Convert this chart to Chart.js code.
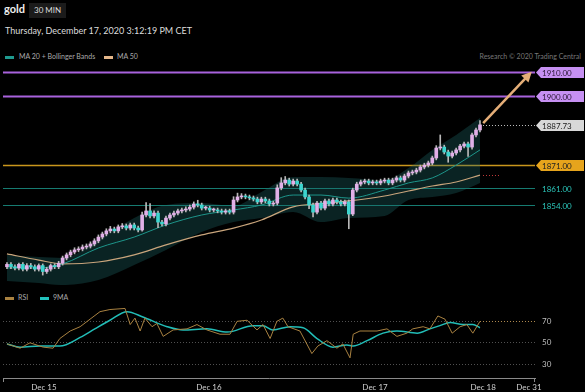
<!DOCTYPE html>
<html>
<head>
<meta charset="utf-8">
<script src="https://cdn.jsdelivr.net/npm/chart.js@4.4.0/dist/chart.umd.min.js"></script>
<style>
  html, body { margin: 0; padding: 0; background: #000; }
  body { width: 585px; height: 392px; position: relative; overflow: hidden; font-family: Lato, "Open Sans", sans-serif; color: #ddd; }
  .abs { position: absolute; white-space: nowrap; }
  #title { left: 4px; top: 2px; font-size: 11px; font-weight: bold; color: #eee; }
  #period { left: 29px; top: 3px; height: 15px; line-height: 15px; padding: 0 5px; background: #1b1b1b; font-size: 8px; color: #ddd; }
  #stamp { left: 5px; top: 25px; font-size: 9px; color: #ddd; }
  .lg { font-size: 7px; color: #aaa; line-height: 9px; }
  .sw { position: absolute; width: 9px; height: 3px; }
  #credit { right: 4px; top: 52px; font-size: 7px; color: #777; }
  canvas { position: absolute; left: 0; }
  #main { top: 0; }
  #rsi { top: 290px; }
</style>
</head>
<body>
<div class="abs" id="title">gold</div>
<div class="abs" id="period">30 MIN</div>
<div class="abs" id="stamp">Thursday, December 17, 2020 3:12:19 PM CET</div>

<div class="sw" style="left:5px; top:56px; background:#1f9a8f;"></div>
<div class="abs lg" style="left:19px; top:52px;">MA 20 + Bollinger Bands</div>
<div class="sw" style="left:104px; top:56px; background:#e3b68a;"></div>
<div class="abs lg" style="left:117px; top:52px;">MA 50</div>
<div class="abs" id="credit">Research © 2020 Trading Central</div>

<div class="sw" style="left:5px; top:297px; background:#a98241;"></div>
<div class="abs lg" style="left:18px; top:293px;">RSI</div>
<div class="sw" style="left:40px; top:297px; background:#22c2bd;"></div>
<div class="abs lg" style="left:53px; top:293px;">9MA</div>

<canvas id="main" width="585" height="290"></canvas>
<canvas id="rsi" width="585" height="102"></canvas>

<script>
// 30 min candles, Dec 14 evening -> Dec 17 15:00
const opens = [1828.0, 1829.0, 1828.0, 1827.5, 1829.0, 1827.0, 1828.5, 1828.0, 1827.0, 1828.5,
  1826.0, 1827.0, 1828.5, 1828.0, 1829.5, 1831.7, 1833.0, 1834.2, 1835.1, 1835.5,
  1836.3, 1836.7, 1837.6, 1838.9, 1840.5, 1841.8, 1843.1, 1843.9, 1843.1, 1844.8,
  1845.2, 1844.3, 1845.6, 1844.3, 1843.5, 1849.8, 1851.5, 1849.4, 1850.6, 1846.8,
  1846.0, 1848.5, 1849.8, 1850.6, 1851.5, 1851.9, 1852.3, 1853.1, 1854.4, 1854.0,
  1852.7, 1852.7, 1851.9, 1851.9, 1851.5, 1851.0, 1851.5, 1851.0, 1856.1, 1857.4,
  1857.8, 1857.4, 1857.0, 1856.5, 1855.3, 1856.5, 1855.7, 1854.4, 1854.8, 1861.2,
  1863.3, 1864.5, 1862.8, 1864.1, 1862.8, 1860.3, 1857.4, 1854.0, 1851.0, 1854.8,
  1852.7, 1855.7, 1854.4, 1856.1, 1855.3, 1854.4, 1855.3, 1850.2, 1860.3, 1862.8,
  1863.7, 1864.1, 1863.3, 1863.7, 1863.3, 1864.1, 1864.5, 1863.3, 1864.5, 1865.4,
  1864.5, 1866.2, 1867.5, 1867.9, 1868.7, 1870.0, 1870.8, 1871.7, 1873.8, 1878.0,
  1878.4, 1876.3, 1874.6, 1875.9, 1877.2, 1878.8, 1879.7, 1878.4, 1883.5, 1885.6];
const highs = [1829.8, 1829.8, 1828.8, 1829.6, 1829.8, 1829.3, 1829.4, 1828.8, 1829.2, 1829.2,
  1827.8, 1829.2, 1829.3, 1830.3, 1832.5, 1833.8, 1835.0, 1836.0, 1836.4, 1837.2,
  1837.6, 1838.5, 1839.8, 1841.4, 1842.6, 1844.0, 1845.0, 1844.7, 1845.6, 1846.2,
  1846.0, 1846.4, 1846.4, 1845.1, 1851.0, 1855.0, 1854.6, 1851.5, 1851.4, 1847.6,
  1849.3, 1850.6, 1851.4, 1852.3, 1852.7, 1853.2, 1854.0, 1855.3, 1856.0, 1854.8,
  1853.5, 1853.5, 1852.7, 1852.7, 1852.3, 1852.3, 1852.3, 1857.5, 1859.0, 1858.8,
  1858.6, 1858.2, 1857.8, 1857.3, 1857.3, 1857.3, 1856.5, 1855.6, 1862.5, 1865.5,
  1866.0, 1865.3, 1864.9, 1864.9, 1863.6, 1861.1, 1858.2, 1854.8, 1855.6, 1855.6,
  1856.5, 1856.5, 1856.9, 1856.9, 1856.1, 1856.1, 1856.1, 1861.1, 1863.6, 1864.5,
  1864.9, 1864.9, 1864.5, 1864.5, 1864.9, 1865.3, 1865.3, 1865.3, 1866.2, 1866.2,
  1867.0, 1868.3, 1868.7, 1869.5, 1870.8, 1871.6, 1872.5, 1874.6, 1879.0, 1883.5,
  1879.2, 1877.1, 1876.7, 1878.0, 1879.6, 1880.5, 1880.5, 1884.3, 1886.4, 1889.6];
const lows = [1827.2, 1827.2, 1826.7, 1826.7, 1826.2, 1826.2, 1827.2, 1826.2, 1826.2, 1824.5,
  1825.2, 1826.2, 1827.2, 1827.2, 1828.7, 1830.9, 1832.2, 1833.4, 1834.3, 1834.7,
  1835.5, 1835.9, 1836.8, 1838.1, 1839.7, 1841.0, 1842.3, 1842.3, 1842.3, 1844.0,
  1843.5, 1843.5, 1843.5, 1842.7, 1843.0, 1849.0, 1848.6, 1848.6, 1844.5, 1845.2,
  1845.2, 1847.7, 1849.0, 1849.8, 1850.7, 1851.1, 1851.5, 1852.3, 1853.2, 1851.9,
  1851.9, 1851.1, 1851.1, 1850.7, 1850.2, 1850.2, 1850.2, 1850.2, 1855.3, 1856.6,
  1856.6, 1856.2, 1855.7, 1854.5, 1854.5, 1854.9, 1853.6, 1853.6, 1854.0, 1860.4,
  1862.5, 1862.0, 1862.0, 1862.0, 1859.5, 1856.6, 1852.5, 1849.0, 1850.2, 1851.9,
  1851.9, 1853.6, 1853.6, 1854.5, 1853.6, 1853.6, 1844.0, 1849.5, 1859.5, 1862.0,
  1862.9, 1862.5, 1862.5, 1862.5, 1862.5, 1863.3, 1862.5, 1862.5, 1863.7, 1863.7,
  1863.7, 1865.4, 1866.7, 1867.1, 1867.9, 1869.2, 1870.0, 1870.9, 1873.0, 1877.2,
  1875.5, 1872.0, 1873.8, 1875.1, 1876.4, 1878.0, 1874.5, 1877.5, 1882.7, 1884.8];
const closes = [1829.0, 1828.0, 1827.5, 1829.0, 1827.0, 1828.5, 1828.0, 1827.0, 1828.5, 1826.0,
  1827.0, 1828.5, 1828.0, 1829.5, 1831.7, 1833.0, 1834.2, 1835.1, 1835.5, 1836.3,
  1836.7, 1837.6, 1838.9, 1840.5, 1841.8, 1843.1, 1843.9, 1843.1, 1844.8, 1845.2,
  1844.3, 1845.6, 1844.3, 1843.5, 1849.8, 1851.5, 1849.4, 1850.6, 1846.8, 1846.0,
  1848.5, 1849.8, 1850.6, 1851.5, 1851.9, 1852.3, 1853.1, 1854.4, 1854.0, 1852.7,
  1852.7, 1851.9, 1851.9, 1851.5, 1851.0, 1851.5, 1851.0, 1856.1, 1857.4, 1857.8,
  1857.4, 1857.0, 1856.5, 1855.3, 1856.5, 1855.7, 1854.4, 1854.8, 1861.2, 1863.3,
  1864.5, 1862.8, 1864.1, 1862.8, 1860.3, 1857.4, 1854.0, 1851.0, 1854.8, 1852.7,
  1855.7, 1854.4, 1856.1, 1855.3, 1854.4, 1855.3, 1850.2, 1860.3, 1862.8, 1863.7,
  1864.1, 1863.3, 1863.7, 1863.3, 1864.1, 1864.5, 1863.3, 1864.5, 1865.4, 1864.5,
  1866.2, 1867.5, 1867.9, 1868.7, 1870.0, 1870.8, 1871.7, 1873.8, 1878.0, 1878.4,
  1876.3, 1874.6, 1875.9, 1877.2, 1878.8, 1879.7, 1878.4, 1883.5, 1885.6, 1887.73];

// indicators, read at a few candle positions
const bandIdx = [0, 8, 14, 23, 32, 40, 49, 57, 64, 72, 79, 86, 95, 101, 107, 113, 119];
const bandUpper = [1832.9, 1832.1, 1831.7, 1839.3, 1848.5, 1854.0, 1854.8, 1853.6, 1859.5, 1865.8, 1865.8, 1865.4, 1864.5, 1869.6, 1877.2, 1883.5, 1890.6];
const bandLower = [1822.0, 1821.2, 1820.3, 1822.4, 1828.7, 1835.1, 1842.6, 1846.8, 1848.5, 1851.1, 1846.8, 1848.5, 1849.4, 1856.1, 1857.4, 1859.1, 1863.3];
const ma20 = [1827.5, 1827.5, 1829.2, 1835.9, 1840.5, 1845.6, 1849.8, 1851.9, 1854.0, 1858.2, 1858.2, 1856.9, 1860.3, 1863.3, 1865.4, 1870.8, 1877.2];
const ma50 = [1833.4, 1830.8, 1829.2, 1830.0, 1833.0, 1837.2, 1841.4, 1844.3, 1847.7, 1853.2, 1854.6, 1855.7, 1857.8, 1859.9, 1862.0, 1863.7, 1866.6];

// key levels
const levelPrices = [1910, 1900, 1887.73, 1871, 1861, 1854];
const levelLabels = ['1910.00', '1900.00', '1887.73', '1871.00', '1861.00', '1854.00'];
const arrowIdx = [119.8, 131.5];
const arrowPrice = [1888.5, 1909.2];

// RSI panel
const rsiIdx = [0, 3.3, 5.8, 9.1, 11.6, 13.3, 15.9, 18.4, 20.9, 23.4, 25.9, 29.7, 31.0, 32.2, 33.5, 34.7, 36.5, 37.7, 39.3, 41.8,
  45.3, 47.8, 50.3, 53.6, 56.1, 57.9, 60.4, 62.9, 64.4, 66.2, 67.9, 69.4, 70.7, 73.7, 76.7, 78.2, 80.5, 83.0, 84.5, 86.3,
  87.1, 88.8, 93.1, 95.6, 98.1, 100.6, 102.1, 104.7, 106.4, 108.4, 110.2, 112.0, 114.0, 115.7, 117.2, 119.0];
const rsiVal = [49, 45, 50, 46, 45, 54, 61, 65, 72, 79, 81, 82, 67, 73, 61, 73, 65, 68, 56, 62,
  63, 67, 62, 58, 58, 70, 71, 62, 67, 54, 70, 73, 65, 61, 40, 47, 52, 45, 49, 36,
  58, 61, 61, 63, 56, 59, 63, 65, 63, 75, 72, 59, 65, 67, 59, 70];
const ma9Idx = [0, 3.3, 8.3, 13.3, 18.4, 22.1, 25.9, 30.2, 34.2, 40.3, 44.3, 50.3, 55.4, 61.9, 64.4, 66.9,
  71.2, 74.5, 78.0, 82.0, 85.5, 87.1, 90.6, 94.6, 98.1, 103.2, 106.4, 108.9, 111.5, 114.7, 117.2, 119.0];
const ma9Val = [49, 46, 47, 47, 55, 63, 71, 79, 74, 65, 62, 63, 60, 66, 66, 62,
  65, 64, 54, 46, 48, 47, 52, 59, 61, 59, 63, 66, 69, 67, 67, 64];
const rsiTicks = [30, 50, 70];

// date axis
const tickIdx = [9.3, 50.8, 92.6, 119.8, 131.3];
const tickText = ['Dec 15', 'Dec 16', 'Dec 17', 'Dec 18', 'Dec 31'];

const X_MIN = -1, X_MAX = 132.84;
const UP = '#e2b0e8', DOWN = '#3dd5cf';
const FONT = 'Lato, "Open Sans", sans-serif';

const levelStyles = [
  { line: '#a862dc', width: 2, box: '#c690f2', text: '#2b1736' },
  { line: '#a862dc', width: 2, box: '#c690f2', text: '#2b1736' },
  { line: '#bdbdbd', width: 1, dash: [1, 2], fromLast: true, box: '#d8d8d8', text: '#222' },
  { line: '#c9961c', width: 1.5, box: '#e6a41c', text: '#222' },
  { line: '#167b71', width: 1.2, text: '#2bc4b8' },
  { line: '#167b71', width: 1.2, text: '#2bc4b8' }
];

const pts = (xs, ys) => xs.map((x, i) => ({ x: x, y: ys[i] }));

const levelsPlugin = {
  id: 'levels',
  beforeDatasetsDraw(chart) {
    const { ctx, chartArea: a, scales: { x, y } } = chart;
    ctx.save();
    levelPrices.forEach((p, i) => {
      const st = levelStyles[i];
      const py = Math.round(y.getPixelForValue(p)) + 0.5;
      const x0 = st.fromLast ? x.getPixelForValue(closes.length - 1) + 3 : a.left;
      ctx.strokeStyle = st.line;
      ctx.lineWidth = st.width;
      ctx.setLineDash(st.dash || []);
      ctx.beginPath();
      ctx.moveTo(x0, py);
      ctx.lineTo(a.right, py);
      ctx.stroke();
    });
    // last MA50 marker
    const my = Math.round(y.getPixelForValue(ma50[ma50.length - 1])) + 0.5;
    const mx = x.getPixelForValue(bandIdx[bandIdx.length - 1]) + 3;
    ctx.strokeStyle = '#c23a3a';
    ctx.lineWidth = 1;
    ctx.setLineDash([1, 2]);
    ctx.beginPath();
    ctx.moveTo(mx, my);
    ctx.lineTo(mx + 18, my);
    ctx.stroke();
    ctx.restore();
  },
  afterDraw(chart) {
    const { ctx, chartArea: a } = chart;
    const y = chart.scales.y;
    ctx.save();
    ctx.font = '8px ' + FONT;
    ctx.textBaseline = 'middle';
    levelPrices.forEach((p, i) => {
      const st = levelStyles[i];
      const py = Math.round(y.getPixelForValue(p)) + 0.5;
      const bx = a.right + 1;
      if (st.box) {
        ctx.fillStyle = st.box;
        ctx.beginPath();
        ctx.moveTo(bx, py);
        ctx.lineTo(bx + 5, py - 5.5);
        ctx.lineTo(bx + 48, py - 5.5);
        ctx.lineTo(bx + 48, py + 5.5);
        ctx.lineTo(bx + 5, py + 5.5);
        ctx.closePath();
        ctx.fill();
      }
      ctx.fillStyle = st.text;
      ctx.fillText(levelLabels[i], bx + 6, py + 0.5);
    });
    // arrow head
    const meta = chart.getDatasetMeta(chart.data.datasets.length - 1);
    const p0 = meta.data[0], p1 = meta.data[1];
    const ang = Math.atan2(p1.y - p0.y, p1.x - p0.x);
    ctx.fillStyle = '#e5ae78';
    ctx.translate(p1.x, p1.y);
    ctx.rotate(ang);
    ctx.beginPath();
    ctx.moveTo(3, 0);
    ctx.lineTo(-7, -5);
    ctx.lineTo(-7, 5);
    ctx.closePath();
    ctx.fill();
    ctx.restore();
  }
};

new Chart(document.getElementById('main'), {
  type: 'bar',
  data: {
    datasets: [
      { type: 'line', data: pts(bandIdx, bandUpper), borderWidth: 0, pointRadius: 0, fill: false,
        cubicInterpolationMode: 'monotone', order: 6 },
      { type: 'line', data: pts(bandIdx, bandLower), borderWidth: 0, pointRadius: 0, fill: '-1',
        backgroundColor: 'rgba(30,110,108,0.32)', cubicInterpolationMode: 'monotone', order: 5 },
      { type: 'line', data: pts(bandIdx, ma50), borderColor: '#c9a57c', borderWidth: 1.2, pointRadius: 0,
        cubicInterpolationMode: 'monotone', order: 4 },
      { type: 'line', data: pts(bandIdx, ma20), borderColor: '#1d958a', borderWidth: 1, pointRadius: 0,
        cubicInterpolationMode: 'monotone', order: 3 },
      { type: 'bar', data: closes.map((c, i) => ({ x: i, y: [lows[i], highs[i]] })),
        backgroundColor: '#b8b8b8', barThickness: 1, grouped: false, order: 2 },
      { type: 'bar', data: closes.map((c, i) => ({ x: i, y: [opens[i], c] })),
        backgroundColor: closes.map((c, i) => c >= opens[i] ? UP : DOWN),
        barThickness: 3, minBarLength: 1, grouped: false, order: 1 },
      { type: 'line', data: pts(arrowIdx, arrowPrice), borderColor: '#e5ae78', borderWidth: 2.5,
        pointRadius: 0, order: 0 }
    ]
  },
  options: {
    responsive: false,
    animation: false,
    devicePixelRatio: 1,
    events: [],
    layout: { padding: { left: 3, right: 50, top: 45, bottom: 5 } },
    plugins: { legend: { display: false }, tooltip: { enabled: false } },
    scales: {
      x: { type: 'linear', min: X_MIN, max: X_MAX, offset: false, display: false },
      y: { min: 1820.32, max: 1921.37, display: false }
    }
  },
  plugins: [levelsPlugin]
});

const rsiPlugin = {
  id: 'rsiMarks',
  afterDraw(chart) {
    const { ctx, chartArea: a, scales: { x, y } } = chart;
    ctx.save();
    const ly = Math.round(y.getPixelForValue(rsiVal[rsiVal.length - 1])) + 0.5;
    ctx.strokeStyle = '#b08a4e';
    ctx.setLineDash([1, 2]);
    ctx.beginPath();
    ctx.moveTo(x.getPixelForValue(rsiIdx[rsiIdx.length - 1]), ly);
    ctx.lineTo(a.right, ly);
    ctx.stroke();
    ctx.setLineDash([]);
    ctx.strokeStyle = '#8a8a8a';
    ctx.beginPath();
    ctx.moveTo(a.left + 0.5, a.bottom);
    ctx.lineTo(a.left + 0.5, a.bottom + 4);
    ctx.moveTo(a.right - 0.5, a.bottom);
    ctx.lineTo(a.right - 0.5, a.bottom + 4);
    ctx.stroke();
    ctx.restore();
  }
};

new Chart(document.getElementById('rsi'), {
  type: 'line',
  data: {
    datasets: [
      { label: 'RSI', data: pts(rsiIdx, rsiVal), borderColor: '#a98241', borderWidth: 1, pointRadius: 0 },
      { label: '9MA', data: pts(ma9Idx, ma9Val), borderColor: '#22bdb7', borderWidth: 1.5, pointRadius: 0,
        cubicInterpolationMode: 'monotone' }
    ]
  },
  options: {
    responsive: false,
    animation: false,
    devicePixelRatio: 1,
    events: [],
    layout: { padding: { left: 3, right: 0, top: 10, bottom: 0 } },
    plugins: { legend: { display: false }, tooltip: { enabled: false } },
    scales: {
      x: {
        type: 'linear', min: X_MIN, max: X_MAX,
        grid: { display: false, drawTicks: false },
        border: { color: '#8a8a8a', width: 1 },
        afterFit: s => { s.height = 14; },
        afterBuildTicks: s => { s.ticks = tickIdx.map(v => ({ value: v })); },
        ticks: { autoSkip: false, maxRotation: 0, padding: 5, color: '#cfcfcf',
          font: { family: FONT, size: 8 }, callback: (v, i) => tickText[i] }
      },
      y: {
        position: 'right', min: 17.27, max: 88.18,
        grid: { color: '#505050', drawTicks: false },
        border: { display: false, dash: [1, 2] },
        afterFit: s => { s.width = 50; },
        afterBuildTicks: s => { s.ticks = rsiTicks.map(v => ({ value: v })); },
        ticks: { padding: 7, color: '#bdbdbd', font: { family: FONT, size: 8 } }
      }
    }
  },
  plugins: [rsiPlugin]
});
</script>
</body>
</html>
